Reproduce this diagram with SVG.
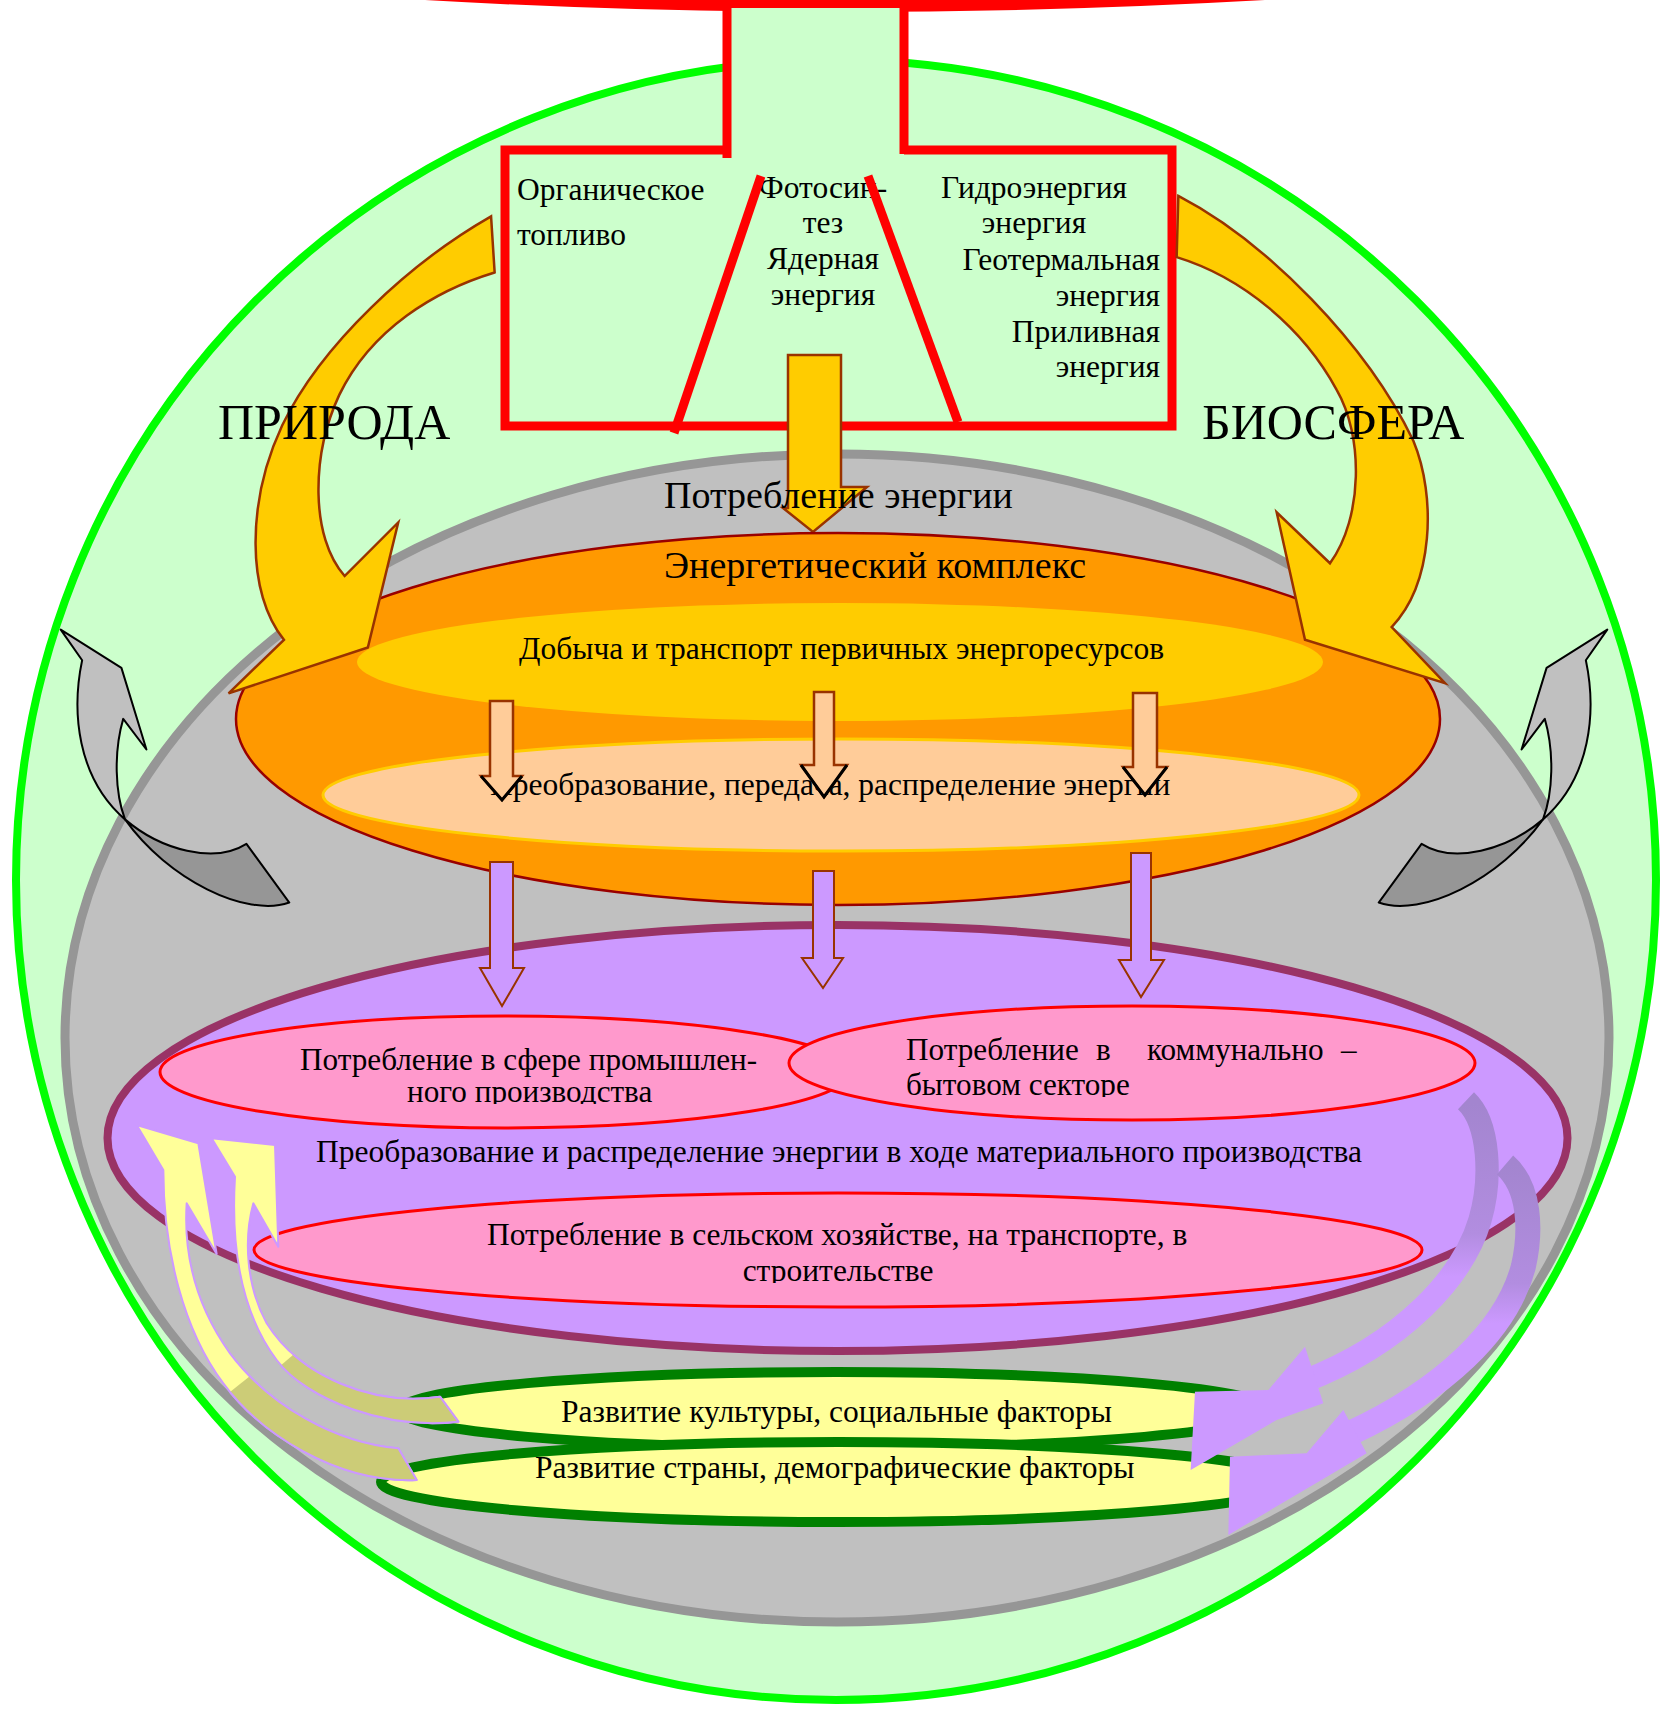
<svg xmlns="http://www.w3.org/2000/svg" width="1663" height="1711" viewBox="0 0 1663 1711">
<defs>
<style>
text { font-family: "Liberation Serif", "Times New Roman", serif; fill: #000; }
.s30 { font-size: 31.5px; }
.s31 { font-size: 31.2px; }
.s38 { font-size: 38px; }
.s50 { font-size: 50px; }
.red { fill: none; stroke: #FF0000; stroke-width: 9; }
.nss { vector-effect: non-scaling-stroke; }
.garrow { stroke: #000; stroke-width: 2; stroke-linejoin: round; }
.yarrow { fill: #FFCC00; stroke: #993300; stroke-width: 2.5; }
.parrow { fill: #FFCC99; stroke: #993300; stroke-width: 2.5; }
.vhead { fill: none; stroke: #000; stroke-width: 3; }
.varrow { fill: #CC99FF; stroke: #993300; stroke-width: 2; }
.pink { fill: #FF99CC; stroke: #FF0000; stroke-width: 3; }
.yell { fill: #FFFF99; stroke: #008000; stroke-width: 10; }
.barrow { stroke: #CC99FF; stroke-width: 2; stroke-linejoin: round; }
</style>
<clipPath id="c1"><rect x="380" y="1070" width="320" height="34"/></clipPath>
<clipPath id="c2"><rect x="890" y="1065" width="280" height="32"/></clipPath>
<clipPath id="c3"><rect x="720" y="1250" width="240" height="33"/></clipPath>
<clipPath id="oliveA"><polygon points="300,900 450,780 1100,780 1100,1300 300,1300"/></clipPath>
<clipPath id="oliveB"><polygon points="420,850 560,730 1100,730 1100,1100 420,1100"/></clipPath>
<linearGradient id="gC" gradientUnits="userSpaceOnUse" x1="900" y1="100" x2="900" y2="620">
<stop offset="0" stop-color="#A385CF"/><stop offset="0.75" stop-color="#B28DE0"/><stop offset="1" stop-color="#CC99FF"/>
</linearGradient>
<linearGradient id="gD" gradientUnits="userSpaceOnUse" x1="1000" y1="280" x2="1000" y2="760">
<stop offset="0" stop-color="#A385CF"/><stop offset="0.75" stop-color="#B28DE0"/><stop offset="1" stop-color="#CC99FF"/>
</linearGradient>
</defs>

<rect width="1663" height="1711" fill="#FFFFFF"/>

<g id="sun"><path d="M 425,0 Q 840,24 1265,0 Z" fill="#FF0000"/></g>

<g id="biosphere"><circle cx="836" cy="880" r="820" fill="#CCFFCC" stroke="#00FF00" stroke-width="8"/></g>

<g id="stem">
<rect x="727" y="8" width="177" height="150" fill="#CCFFCC"/>
<line x1="727" y1="8" x2="727" y2="158" class="red"/>
<line x1="904" y1="8" x2="904" y2="154" class="red"/>
</g>

<g id="sources">
<path class="red" d="M 727,150 H 505 V 426 H 1172 V 150 H 904"/>
<text class="s30" x="517" y="200">Органическое</text>
<text class="s30" x="517" y="245">топливо</text>
<text class="s30" x="823" y="198" text-anchor="middle">Фотосин-</text>
<text class="s30" x="823" y="233" text-anchor="middle">тез</text>
<text class="s30" x="823" y="269" text-anchor="middle">Ядерная</text>
<text class="s30" x="823" y="305" text-anchor="middle">энергия</text>
<text class="s30" x="1034" y="198" text-anchor="middle">Гидроэнергия</text>
<text class="s30" x="1034" y="233" text-anchor="middle">энергия</text>
<text class="s30" x="1160" y="270" text-anchor="end">Геотермальная</text>
<text class="s30" x="1160" y="306" text-anchor="end">энергия</text>
<text class="s30" x="1160" y="342" text-anchor="end">Приливная</text>
<text class="s30" x="1160" y="377" text-anchor="end">энергия</text>
<line class="red" x1="761" y1="176" x2="674" y2="433"/>
<line class="red" x1="868" y1="176" x2="958" y2="422"/>
</g>

<g id="economy"><ellipse cx="837" cy="1038" rx="772" ry="584" fill="#C0C0C0" stroke="#969696" stroke-width="9"/></g>

<g id="connectors-back">
<g transform="translate(0,150) scale(0.35714,0.5102)">
<path class="garrow nss" fill="#C0C0C0" d="M 230,1000 C 200,1100 215,1230 350,1312 C 322,1260 318,1180 345,1115 L 410,1175 L 340,1015 L 170,940 Z"/>
<path class="garrow nss" fill="#969696" d="M 350,1312 C 450,1372 600,1400 690,1360 L 810,1475 C 690,1505 470,1430 350,1312 Z"/>
</g>
<g transform="translate(1668,0) scale(-1,1)"><g transform="translate(0,150) scale(0.35714,0.5102)">
<path class="garrow nss" fill="#C0C0C0" d="M 230,1000 C 200,1100 215,1230 350,1312 C 322,1260 318,1180 345,1115 L 410,1175 L 340,1015 L 170,940 Z"/>
<path class="garrow nss" fill="#969696" d="M 350,1312 C 450,1372 600,1400 690,1360 L 810,1475 C 690,1505 470,1430 350,1312 Z"/>
</g></g>
<path class="yarrow" d="M 788,355 H 841 V 487 H 867 L 813,532 L 783,508 H 788 Z"/>
</g>

<g id="energy-complex">
<ellipse cx="838" cy="719" rx="602" ry="186" fill="#FF9900" stroke="#990000" stroke-width="2.5"/>
<ellipse cx="840" cy="662" rx="483" ry="59" fill="#FFCC00"/>
<ellipse cx="841" cy="795" rx="518" ry="56" fill="#FFCC99" stroke="#FFCC00" stroke-width="3"/>
<text class="s38" x="664" y="578">Энергетический комплекс</text>
<text class="s30" x="519" y="659">Добыча и транспорт первичных энергоресурсов</text>
<text class="s30" x="490" y="795">Преобразование, передача, распределение энергии</text>
</g>

<g id="connectors-mid">
<g transform="translate(0,150) scale(0.35714,0.5102)">
<path class="yarrow nss" d="M 1375,130 C 1150,220 900,380 790,540 C 690,690 690,870 795,960 L 640,1065 L 1030,975 L 1115,730 L 965,835 C 870,760 870,600 950,480 C 1040,350 1220,275 1385,240 Z"/>
</g>
<g transform="translate(1150,150) scale(0.33333,0.5102)">
<path class="yarrow nss" d="M 85,90 C 350,180 650,380 790,570 C 860,680 850,850 725,935 L 885,1045 L 465,960 L 380,710 L 540,810 C 640,720 640,560 560,470 C 460,350 280,250 80,210 Z"/>
</g>
<path class="parrow" d="M 490,701 H 513 V 776 H 522 L 502,800 L 481,776 H 490 Z"/>
<polyline class="vhead" points="481,776 502,800 522,776"/>
<path class="parrow" d="M 814,692 H 834 V 765 H 847 L 824,797 L 801,765 H 814 Z"/>
<polyline class="vhead" points="801,765 824,797 847,765"/>
<path class="parrow" d="M 1133,693 H 1157 V 767 H 1167 L 1145,795 L 1123,767 H 1133 Z"/>
<polyline class="vhead" points="1123,767 1145,795 1167,767"/>
</g>

<g id="labels">
<text class="s50" x="218" y="439">ПРИРОДА</text>
<text class="s50" x="1202" y="439">БИОСФЕРА</text>
<text class="s38" x="664" y="508">Потребление энергии</text>
</g>

<g id="production">
<ellipse cx="837.5" cy="1138" rx="730" ry="213" fill="#CC99FF" stroke="#993366" stroke-width="8"/>
<ellipse cx="505" cy="1072" rx="345" ry="56" class="pink"/>
<ellipse cx="1132" cy="1063" rx="343" ry="57" class="pink"/>
<ellipse cx="838" cy="1250" rx="584" ry="57" class="pink"/>
<text class="s31" x="300" y="1070">Потребление в сфере промышлен-</text>
<text class="s31" x="407" y="1102" clip-path="url(#c1)">ного производства</text>
<text class="s31" y="1060"><tspan x="906">Потребление</tspan><tspan x="1096">в</tspan><tspan x="1147">коммунально</tspan><tspan x="1341">–</tspan></text>
<text class="s31" x="906" y="1095" clip-path="url(#c2)">бытовом секторе</text>
<text class="s30" x="316" y="1162">Преобразование и распределение энергии в ходе материального производства</text>
<text class="s30" x="487" y="1245">Потребление в сельском хозяйстве, на транспорте, в</text>
<text class="s30" x="838" y="1281" text-anchor="middle" clip-path="url(#c3)">строительстве</text>
</g>

<g id="connectors-down">
<path class="varrow" d="M 490,862 H 513 V 968 H 524 L 502,1006 L 480,968 H 490 Z"/>
<path class="varrow" d="M 813,871 H 834 V 958 H 843 L 823,988 L 802,958 H 813 Z"/>
<path class="varrow" d="M 1131,853 H 1151 V 960 H 1164 L 1141,997 L 1119,960 H 1131 Z"/>
</g>

<g id="factors">
<ellipse cx="836" cy="1410" rx="436" ry="38" class="yell"/>
<ellipse cx="838" cy="1482" rx="457" ry="40" class="yell"/>
<text class="s30" x="561" y="1422">Развитие культуры, социальные факторы</text>
<text class="s30" x="535" y="1478">Развитие страны, демографические факторы</text>
</g>

<g id="connectors-feedback">
<g transform="translate(120,1100) scale(0.33333)">
<path class="barrow nss" fill="#FFFF99" d="M 50,75 L 235,130 L 290,462 L 200,310 C 190,470 230,620 330,760 C 450,920 650,1030 835,1045 L 890,1140 C 650,1150 420,1000 310,850 C 190,690 130,450 130,210 Z"/>
<path class="barrow nss" fill="#CCCC77" clip-path="url(#oliveA)" d="M 50,75 L 235,130 L 290,462 L 200,310 C 190,470 230,620 330,760 C 450,920 650,1030 835,1045 L 890,1140 C 650,1150 420,1000 310,850 C 190,690 130,450 130,210 Z"/>
<path class="barrow nss" fill="#FFFF99" d="M 275,115 L 465,135 L 475,440 L 400,310 C 370,420 380,560 440,670 C 540,830 760,920 960,890 L 1015,965 C 800,990 560,900 470,780 C 380,660 330,480 345,230 Z"/>
<path class="barrow nss" fill="#CCCC77" clip-path="url(#oliveB)" d="M 275,115 L 465,135 L 475,440 L 400,310 C 370,420 380,560 440,670 C 540,830 760,920 960,890 L 1015,965 C 800,990 560,900 470,780 C 380,660 330,480 345,230 Z"/>
</g>
<g transform="translate(1170,1070) scale(0.33333)">
<path d="M 888,92 C 960,160 965,330 930,450 C 880,620 700,820 400,935" fill="none" stroke="url(#gC)" stroke-width="70"/>
<path d="M 405,830 L 295,960 L 75,965 L 62,1200 L 320,1050 L 460,1000 Z" fill="#CC99FF"/>
<path d="M 1005,285 C 1080,350 1085,480 1060,590 C 1010,780 820,960 540,1090" fill="none" stroke="url(#gD)" stroke-width="75"/>
<path d="M 520,1020 L 410,1150 L 180,1160 L 175,1395 L 420,1250 L 590,1150 Z" fill="#CC99FF"/>
</g>
</g>
</svg>
